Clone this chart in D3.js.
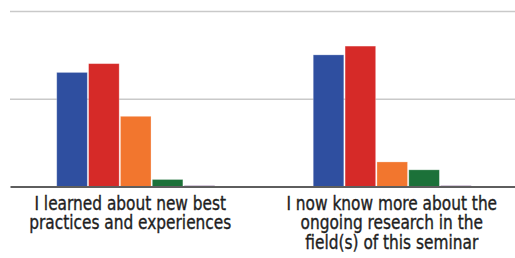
<!DOCTYPE html>
<html>
<head>
<meta charset="utf-8">
<script src="https://cdn.jsdelivr.net/npm/d3@7"></script>
<style>
  body { margin: 0; background: #fff; }
  svg { display: block; }
</style>
</head>
<body>
<svg id="chart" width="515" height="258"></svg>
<script>
const statements = ["I learned about new best practices and experiences", "I now know more about the ongoing research in the field(s) of this seminar"];
const labelLines = [
  ["I learned about new best", "practices and experiences"],
  ["I now know more about the", "ongoing research in the", "field(s) of this seminar"],
];
const answers = ["a1", "a2", "a3", "a4", "a5"];
const counts = [
  [13, 14, 8, 0.8, 0.1],
  [15, 16, 2.8, 1.9, 0.1],
];
const yTicks = [0, 10, 20];
const colors = ["#2f4fa0", "#d62a28", "#f2762e", "#1c7139", "#6b3d7a"];

const svg = d3.select("#chart");
const plotLeft = 10, plotRight = 515;
const yTop = 11, yBottom = 186.5;

const x0 = d3.scaleBand().domain(statements).range([8, 521]).padding(0);
const x1 = d3.scaleBand().domain(answers)
  .range([x0.bandwidth() * 0.19, x0.bandwidth() * 0.806])
  .paddingInner(0.04);
const y = d3.scaleLinear().domain([0, 20]).range([yBottom, yTop]);
const color = d3.scaleOrdinal().domain(answers).range(colors);

// gridlines
svg.append("g")
  .attr("transform", `translate(${plotLeft},0)`)
  .call(d3.axisLeft(y).tickValues(yTicks.slice(1)).tickSize(-(plotRight - plotLeft)).tickFormat(""))
  .call(g => g.select(".domain").remove())
  .call(g => g.selectAll(".tick line").attr("stroke", "#c9c9c9").attr("stroke-width", 1.6));

// bars
const groups = svg.append("g").selectAll("g")
  .data(statements)
  .join("g")
  .attr("transform", d => `translate(${x0(d)},0)`);

groups.selectAll("rect")
  .data((d, i) => answers.map((a, j) => ({ key: a, value: counts[i][j] })))
  .join("rect")
  .attr("x", d => x1(d.key))
  .attr("width", x1.bandwidth())
  .attr("y", d => y(d.value))
  .attr("height", d => y(0) - y(d.value))
  .attr("fill", d => color(d.key))
  .attr("stroke", "rgba(255,255,255,0.35)")
  .attr("stroke-width", 0.8);

// baseline
svg.append("g")
  .attr("transform", `translate(0,${yBottom})`)
  .call(d3.axisBottom(d3.scaleLinear().range([plotLeft, plotRight])).ticks(0).tickSize(0))
  .call(g => g.select(".domain").attr("stroke", "#5e5e5e").attr("stroke-width", 2));

// category labels (condensed look: squeeze horizontally)
svg.append("g")
  .attr("text-anchor", "middle")
  .attr("font-family", "'DejaVu Sans Condensed', 'DejaVu Sans', sans-serif")
  .attr("font-size", 19)
  .attr("fill", "#1e1e1e")
  .attr("stroke", "#1e1e1e")
  .attr("stroke-width", 0.35)
  .selectAll("text")
  .data(statements)
  .join("text")
  .attr("transform", (d, i) => `translate(${x0(d) + x0.bandwidth() / 2 - (i === 0 ? 6 : 1)},209.5) scale(0.9,1)`)
  .each(function (d, i) {
    d3.select(this).selectAll("tspan")
      .data(labelLines[i])
      .join("tspan")
      .attr("x", 0)
      .attr("y", (t, k) => k * 20)
      .text(t => t);
  });
</script>
</body>
</html>
